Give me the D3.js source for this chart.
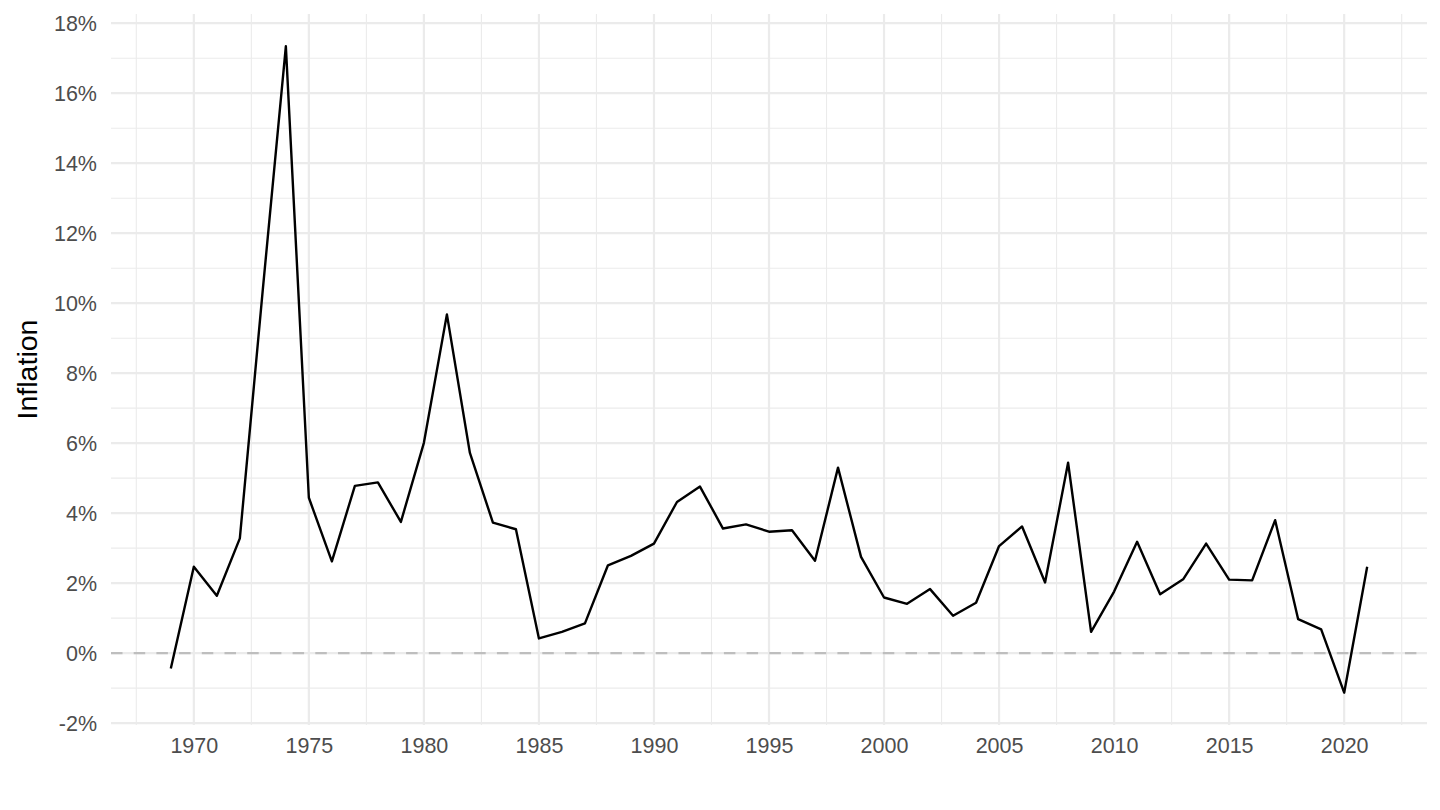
<!DOCTYPE html>
<html>
<head>
<meta charset="utf-8">
<script src="https://cdn.jsdelivr.net/npm/d3@7"></script>
<style>
  body { margin: 0; background: #fff; }
  svg { display: block; font-family: "Liberation Sans", Arial, sans-serif; }
</style>
</head>
<body>
<svg id="chart" width="1440" height="810"></svg>
<script>
// Annual inflation (%)
const years = d3.range(1969, 2022);
const inflation = [
  -0.44, 2.47, 1.64, 3.28, 10.4, 17.34, 4.44, 2.62, 4.78, 4.88,
  3.75, 6.01, 9.68, 5.72, 3.73, 3.54, 0.42, 0.61, 0.85, 2.51,
  2.78, 3.13, 4.32, 4.76, 3.56, 3.68, 3.47, 3.51, 2.64, 5.30,
  2.75, 1.59, 1.41, 1.83, 1.07, 1.44, 3.06, 3.62, 2.02, 5.44,
  0.61, 1.76, 3.18, 1.68, 2.11, 3.13, 2.10, 2.08, 3.80, 0.97,
  0.68, -1.13, 2.47
];
const xTicks = d3.range(1970, 2021, 5);
const xMinor = d3.range(1967.5, 2023, 5);
const yTicks = d3.range(-2, 19, 2);
const yMinor = d3.range(-1, 18, 2);

const data = years.map((y, i) => ({ year: y, value: inflation[i] }));

const svg = d3.select("#chart");
const W = 1440, H = 810;
const margin = { top: 14, right: 13, bottom: 85, left: 111 };

// ggplot-style 5% expansion
function expand(ext) {
  const pad = (ext[1] - ext[0]) * 0.05;
  return [ext[0] - pad, ext[1] + pad];
}

const x = d3.scaleLinear()
  .domain(expand(d3.extent(years)))
  .range([margin.left, W - margin.right]);

const y = d3.scaleLinear()
  .domain(expand(d3.extent(inflation)))
  .range([H - margin.bottom, margin.top]);

const grid = svg.append("g");

// minor grid
grid.selectAll(".xminor").data(xMinor).enter().append("line")
  .attr("x1", d => x(d)).attr("x2", d => x(d))
  .attr("y1", y.range()[0]).attr("y2", y.range()[1])
  .attr("stroke", "#ebebeb").attr("stroke-width", 1.1);
grid.selectAll(".yminor").data(yMinor).enter().append("line")
  .attr("y1", d => y(d)).attr("y2", d => y(d))
  .attr("x1", x.range()[0]).attr("x2", x.range()[1])
  .attr("stroke", "#ebebeb").attr("stroke-width", 1.1);

// major grid
grid.selectAll(".xmajor").data(xTicks).enter().append("line")
  .attr("x1", d => x(d)).attr("x2", d => x(d))
  .attr("y1", y.range()[0]).attr("y2", y.range()[1])
  .attr("stroke", "#ebebeb").attr("stroke-width", 2.2);
grid.selectAll(".ymajor").data(yTicks).enter().append("line")
  .attr("y1", d => y(d)).attr("y2", d => y(d))
  .attr("x1", x.range()[0]).attr("x2", x.range()[1])
  .attr("stroke", "#ebebeb").attr("stroke-width", 2.2);

// zero line
svg.append("line")
  .attr("x1", x.range()[0]).attr("x2", x.range()[1])
  .attr("y1", y(0)).attr("y2", y(0))
  .attr("stroke", "#bebebe").attr("stroke-width", 2.2)
  .attr("stroke-dasharray", "11.5 11.2");

// series
const line = d3.line().x(d => x(d.year)).y(d => y(d.value));
svg.append("path")
  .datum(data)
  .attr("d", line)
  .attr("fill", "none")
  .attr("stroke", "#000")
  .attr("stroke-width", 2.4)
  .attr("stroke-linejoin", "round");

// axes (labels only, theme_minimal)
const xAxis = svg.append("g")
  .attr("transform", `translate(0,${H - margin.bottom})`)
  .call(d3.axisBottom(x).tickValues(xTicks).tickFormat(d3.format("d")).tickSize(0).tickPadding(13));
const yAxis = svg.append("g")
  .attr("transform", `translate(${margin.left},0)`)
  .call(d3.axisLeft(y).tickValues(yTicks).tickFormat(d => d + "%").tickSize(0).tickPadding(14));

[xAxis, yAxis].forEach(g => {
  g.select(".domain").remove();
  g.selectAll("text")
    .attr("fill", "#4d4d4d")
    .style("font-size", "21.5px")
    .style("font-family", "Liberation Sans, Arial, sans-serif");
});

svg.append("text")
  .attr("transform", `translate(37,${(y.range()[0] + y.range()[1]) / 2}) rotate(-90)`)
  .attr("text-anchor", "middle")
  .style("font-size", "28.5px")
  .attr("fill", "#000")
  .text("Inflation");
</script>
</body>
</html>
